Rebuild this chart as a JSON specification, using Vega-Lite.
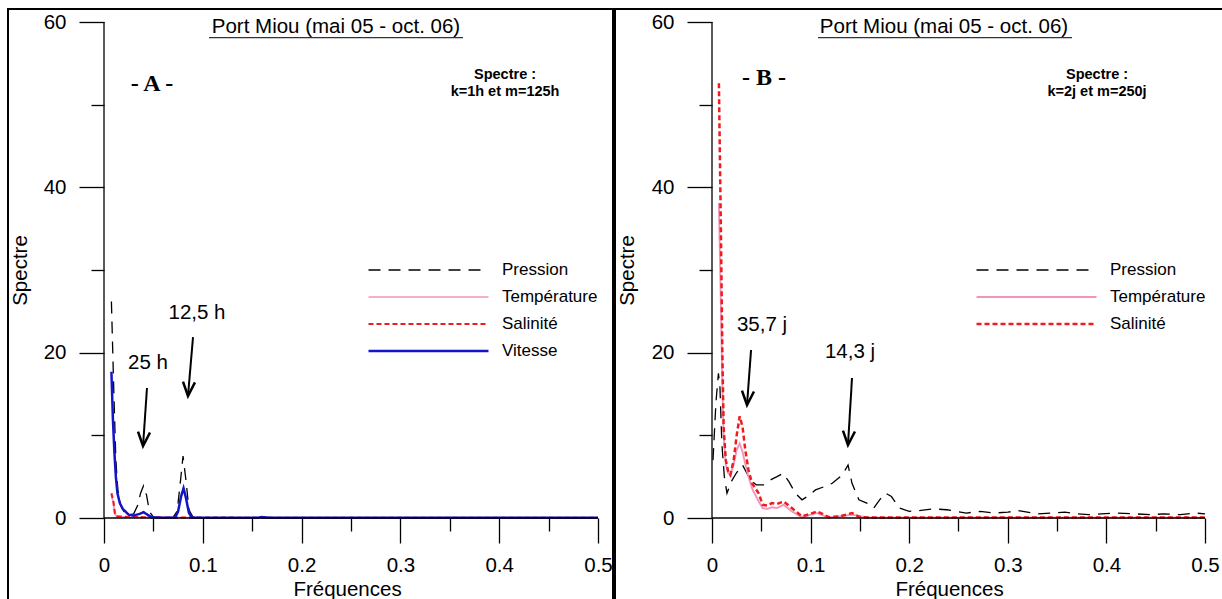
{
  "$schema": "https://vega.github.io/schema/vega-lite/v6.json",
  "padding": {"left": 7, "top": 8, "right": 0, "bottom": 0},
  "background": "white",
  "config": {
    "font": "Liberation Sans",
    "view": {"stroke": "black", "strokeWidth": 2},
    "axis": {"domain": false, "grid": false, "tickColor": "black", "tickWidth": 1.3, "labelColor": "black", "labelFont": "Liberation Sans", "labelFontSize": 20.5, "titleFont": "Liberation Sans", "titleFontSize": 20.5, "titleFontWeight": "normal", "titleColor": "black", "labelFlush": false, "labelOverlap": false},
    "legend": {"orient": "none", "title": null, "symbolType": "stroke", "symbolSize": 14400, "clipHeight": 16, "rowPadding": 10, "labelFont": "Liberation Sans", "labelFontSize": 17, "labelColor": "black", "labelOffset": 12, "symbolStrokeWidth": 2}
  },
  "datasets": {
    "A": [
      {"f": 0.0075, "s": 26.2, "var": "Pression"},
      {"f": 0.010, "s": 15, "var": "Pression"},
      {"f": 0.012, "s": 7, "var": "Pression"},
      {"f": 0.014, "s": 3.4, "var": "Pression"},
      {"f": 0.017, "s": 1.5, "var": "Pression"},
      {"f": 0.020, "s": 0.8, "var": "Pression"},
      {"f": 0.025, "s": 0.4, "var": "Pression"},
      {"f": 0.030, "s": 0.5, "var": "Pression"},
      {"f": 0.034, "s": 1.5, "var": "Pression"},
      {"f": 0.037, "s": 3.0, "var": "Pression"},
      {"f": 0.040, "s": 3.9, "var": "Pression"},
      {"f": 0.043, "s": 2.8, "var": "Pression"},
      {"f": 0.046, "s": 0.8, "var": "Pression"},
      {"f": 0.050, "s": 0.1, "var": "Pression"},
      {"f": 0.060, "s": 0.05, "var": "Pression"},
      {"f": 0.070, "s": 0.1, "var": "Pression"},
      {"f": 0.074, "s": 0.8, "var": "Pression"},
      {"f": 0.077, "s": 4, "var": "Pression"},
      {"f": 0.080, "s": 7.5, "var": "Pression"},
      {"f": 0.083, "s": 4.5, "var": "Pression"},
      {"f": 0.086, "s": 1, "var": "Pression"},
      {"f": 0.090, "s": 0.1, "var": "Pression"},
      {"f": 0.1, "s": 0.05, "var": "Pression"},
      {"f": 0.15, "s": 0.05, "var": "Pression"},
      {"f": 0.16, "s": 0.15, "var": "Pression"},
      {"f": 0.17, "s": 0.05, "var": "Pression"},
      {"f": 0.25, "s": 0.05, "var": "Pression"},
      {"f": 0.35, "s": 0.05, "var": "Pression"},
      {"f": 0.5, "s": 0.05, "var": "Pression"},
      {"f": 0.0075, "s": 2.8, "var": "Température"},
      {"f": 0.0095, "s": 1.8, "var": "Température"},
      {"f": 0.011, "s": 0.5, "var": "Température"},
      {"f": 0.013, "s": 0.15, "var": "Température"},
      {"f": 0.03, "s": 0.1, "var": "Température"},
      {"f": 0.1, "s": 0.03, "var": "Température"},
      {"f": 0.5, "s": 0.02, "var": "Température"},
      {"f": 0.0075, "s": 3.0, "var": "Salinité"},
      {"f": 0.0095, "s": 2.0, "var": "Salinité"},
      {"f": 0.011, "s": 0.6, "var": "Salinité"},
      {"f": 0.013, "s": 0.2, "var": "Salinité"},
      {"f": 0.02, "s": 0.15, "var": "Salinité"},
      {"f": 0.04, "s": 0.1, "var": "Salinité"},
      {"f": 0.06, "s": 0.05, "var": "Salinité"},
      {"f": 0.2, "s": 0.03, "var": "Salinité"},
      {"f": 0.5, "s": 0.02, "var": "Salinité"},
      {"f": 0.0075, "s": 17.7, "var": "Vitesse"},
      {"f": 0.009, "s": 12, "var": "Vitesse"},
      {"f": 0.0105, "s": 8, "var": "Vitesse"},
      {"f": 0.012, "s": 5, "var": "Vitesse"},
      {"f": 0.0136, "s": 3.0, "var": "Vitesse"},
      {"f": 0.016, "s": 1.8, "var": "Vitesse"},
      {"f": 0.019, "s": 1.1, "var": "Vitesse"},
      {"f": 0.025, "s": 0.4, "var": "Vitesse"},
      {"f": 0.030, "s": 0.3, "var": "Vitesse"},
      {"f": 0.036, "s": 0.5, "var": "Vitesse"},
      {"f": 0.040, "s": 0.7, "var": "Vitesse"},
      {"f": 0.044, "s": 0.4, "var": "Vitesse"},
      {"f": 0.048, "s": 0.1, "var": "Vitesse"},
      {"f": 0.06, "s": 0.02, "var": "Vitesse"},
      {"f": 0.072, "s": 0.05, "var": "Vitesse"},
      {"f": 0.075, "s": 0.8, "var": "Vitesse"},
      {"f": 0.078, "s": 2.6, "var": "Vitesse"},
      {"f": 0.0805, "s": 3.6, "var": "Vitesse"},
      {"f": 0.083, "s": 2.4, "var": "Vitesse"},
      {"f": 0.086, "s": 0.6, "var": "Vitesse"},
      {"f": 0.089, "s": 0.05, "var": "Vitesse"},
      {"f": 0.1, "s": 0.02, "var": "Vitesse"},
      {"f": 0.155, "s": 0.02, "var": "Vitesse"},
      {"f": 0.16, "s": 0.12, "var": "Vitesse"},
      {"f": 0.165, "s": 0.02, "var": "Vitesse"},
      {"f": 0.3, "s": 0.02, "var": "Vitesse"},
      {"f": 0.5, "s": 0.02, "var": "Vitesse"}
    ],
    "B": [
      {"f": 0.001, "s": 7, "var": "Pression"},
      {"f": 0.004, "s": 14, "var": "Pression"},
      {"f": 0.0065, "s": 17.5, "var": "Pression"},
      {"f": 0.008, "s": 16, "var": "Pression"},
      {"f": 0.010, "s": 9, "var": "Pression"},
      {"f": 0.0125, "s": 5, "var": "Pression"},
      {"f": 0.0152, "s": 3.0, "var": "Pression"},
      {"f": 0.02, "s": 4.5, "var": "Pression"},
      {"f": 0.025, "s": 5.5, "var": "Pression"},
      {"f": 0.031, "s": 6.4, "var": "Pression"},
      {"f": 0.035, "s": 5.5, "var": "Pression"},
      {"f": 0.039, "s": 4.6, "var": "Pression"},
      {"f": 0.045, "s": 4.0, "var": "Pression"},
      {"f": 0.0524, "s": 4.0, "var": "Pression"},
      {"f": 0.0608, "s": 4.7, "var": "Pression"},
      {"f": 0.066, "s": 5.0, "var": "Pression"},
      {"f": 0.072, "s": 5.4, "var": "Pression"},
      {"f": 0.078, "s": 4.4, "var": "Pression"},
      {"f": 0.0845, "s": 3.0, "var": "Pression"},
      {"f": 0.0913, "s": 2.2, "var": "Pression"},
      {"f": 0.098, "s": 2.7, "var": "Pression"},
      {"f": 0.105, "s": 3.4, "var": "Pression"},
      {"f": 0.114, "s": 3.8, "var": "Pression"},
      {"f": 0.122, "s": 4.2, "var": "Pression"},
      {"f": 0.132, "s": 5.2, "var": "Pression"},
      {"f": 0.138, "s": 6.4, "var": "Pression"},
      {"f": 0.142, "s": 4.2, "var": "Pression"},
      {"f": 0.149, "s": 2.2, "var": "Pression"},
      {"f": 0.157, "s": 1.8, "var": "Pression"},
      {"f": 0.164, "s": 1.2, "var": "Pression"},
      {"f": 0.170, "s": 2.2, "var": "Pression"},
      {"f": 0.176, "s": 3.0, "var": "Pression"},
      {"f": 0.182, "s": 2.6, "var": "Pression"},
      {"f": 0.19, "s": 1.2, "var": "Pression"},
      {"f": 0.2, "s": 0.8, "var": "Pression"},
      {"f": 0.21, "s": 0.9, "var": "Pression"},
      {"f": 0.225, "s": 1.1, "var": "Pression"},
      {"f": 0.238, "s": 1.0, "var": "Pression"},
      {"f": 0.258, "s": 0.6, "var": "Pression"},
      {"f": 0.272, "s": 0.8, "var": "Pression"},
      {"f": 0.286, "s": 0.6, "var": "Pression"},
      {"f": 0.3, "s": 0.7, "var": "Pression"},
      {"f": 0.31, "s": 0.9, "var": "Pression"},
      {"f": 0.33, "s": 0.5, "var": "Pression"},
      {"f": 0.345, "s": 0.6, "var": "Pression"},
      {"f": 0.358, "s": 0.7, "var": "Pression"},
      {"f": 0.37, "s": 0.5, "var": "Pression"},
      {"f": 0.382, "s": 0.4, "var": "Pression"},
      {"f": 0.395, "s": 0.5, "var": "Pression"},
      {"f": 0.41, "s": 0.6, "var": "Pression"},
      {"f": 0.43, "s": 0.5, "var": "Pression"},
      {"f": 0.445, "s": 0.4, "var": "Pression"},
      {"f": 0.458, "s": 0.5, "var": "Pression"},
      {"f": 0.475, "s": 0.4, "var": "Pression"},
      {"f": 0.49, "s": 0.6, "var": "Pression"},
      {"f": 0.5, "s": 0.5, "var": "Pression"},
      {"f": 0.007, "s": 38.1, "var": "Température"},
      {"f": 0.009, "s": 26, "var": "Température"},
      {"f": 0.0105, "s": 16, "var": "Température"},
      {"f": 0.0118, "s": 10, "var": "Température"},
      {"f": 0.014, "s": 6.5, "var": "Température"},
      {"f": 0.0165, "s": 5.4, "var": "Température"},
      {"f": 0.0186, "s": 5.2, "var": "Température"},
      {"f": 0.022, "s": 6.5, "var": "Température"},
      {"f": 0.025, "s": 8.2, "var": "Température"},
      {"f": 0.0281, "s": 9.0, "var": "Température"},
      {"f": 0.031, "s": 8, "var": "Température"},
      {"f": 0.0338, "s": 6.5, "var": "Température"},
      {"f": 0.037, "s": 5.0, "var": "Température"},
      {"f": 0.0406, "s": 3.6, "var": "Température"},
      {"f": 0.0473, "s": 2.0, "var": "Température"},
      {"f": 0.0514, "s": 1.2, "var": "Température"},
      {"f": 0.056, "s": 1.1, "var": "Température"},
      {"f": 0.0608, "s": 1.3, "var": "Température"},
      {"f": 0.066, "s": 1.2, "var": "Température"},
      {"f": 0.0727, "s": 1.6, "var": "Température"},
      {"f": 0.081, "s": 0.8, "var": "Température"},
      {"f": 0.0912, "s": 0.1, "var": "Température"},
      {"f": 0.1064, "s": 0.6, "var": "Température"},
      {"f": 0.1183, "s": 0.05, "var": "Température"},
      {"f": 0.142, "s": 0.4, "var": "Température"},
      {"f": 0.16, "s": 0.03, "var": "Température"},
      {"f": 0.5, "s": 0.03, "var": "Température"},
      {"f": 0.007, "s": 52.6, "var": "Salinité"},
      {"f": 0.009, "s": 35, "var": "Salinité"},
      {"f": 0.0105, "s": 20, "var": "Salinité"},
      {"f": 0.0118, "s": 11.0, "var": "Salinité"},
      {"f": 0.014, "s": 7, "var": "Salinité"},
      {"f": 0.0165, "s": 5.6, "var": "Salinité"},
      {"f": 0.0186, "s": 5.2, "var": "Salinité"},
      {"f": 0.022, "s": 7, "var": "Salinité"},
      {"f": 0.025, "s": 10, "var": "Salinité"},
      {"f": 0.0281, "s": 12.3, "var": "Salinité"},
      {"f": 0.031, "s": 11, "var": "Salinité"},
      {"f": 0.0338, "s": 8.2, "var": "Salinité"},
      {"f": 0.037, "s": 5.8, "var": "Salinité"},
      {"f": 0.0406, "s": 4.2, "var": "Salinité"},
      {"f": 0.0473, "s": 3.0, "var": "Salinité"},
      {"f": 0.0514, "s": 1.6, "var": "Salinité"},
      {"f": 0.056, "s": 1.5, "var": "Salinité"},
      {"f": 0.0608, "s": 1.8, "var": "Salinité"},
      {"f": 0.066, "s": 1.7, "var": "Salinité"},
      {"f": 0.0727, "s": 2.0, "var": "Salinité"},
      {"f": 0.081, "s": 1.2, "var": "Salinité"},
      {"f": 0.0912, "s": 0.2, "var": "Salinité"},
      {"f": 0.1, "s": 0.5, "var": "Salinité"},
      {"f": 0.1064, "s": 0.8, "var": "Salinité"},
      {"f": 0.112, "s": 0.5, "var": "Salinité"},
      {"f": 0.1183, "s": 0.1, "var": "Salinité"},
      {"f": 0.13, "s": 0.2, "var": "Salinité"},
      {"f": 0.142, "s": 0.6, "var": "Salinité"},
      {"f": 0.15, "s": 0.1, "var": "Salinité"},
      {"f": 0.16, "s": 0.05, "var": "Salinité"},
      {"f": 0.3, "s": 0.05, "var": "Salinité"},
      {"f": 0.5, "s": 0.05, "var": "Salinité"}
    ]
  },
  "spacing": 0,
  "resolve": {
    "scale": {"x": "independent", "y": "independent", "color": "independent", "strokeDash": "independent", "strokeWidth": "independent"},
    "legend": {"color": "independent", "strokeDash": "independent", "strokeWidth": "independent"}
  },
  "hconcat": [
    {
      "width": 605,
      "height": 592,
      "layer": [
        {
          "data": {"name": "A"},
          "mark": {"type": "line", "clip": true},
          "encoding": {
            "x": {"field": "f", "type": "quantitative",
              "scale": {"domain": [-0.09717, 0.51518], "nice": false, "zero": false},
              "axis": {"orient": "bottom", "offset": -83, "values": [0, 0.05, 0.1, 0.15, 0.2, 0.25, 0.3, 0.35, 0.4, 0.45, 0.5],
                "tickSize": {"condition": {"test": "round(datum.value*100) % 10 != 0", "value": 13}, "value": 25},
                "labelExpr": "round(datum.value*100) % 10 == 0 ? format(datum.value, '.1~f') : ''",
                "labelPadding": 12, "title": "Fréquences", "titleX": 339, "titleY": 61, "titleBaseline": "top"}},
            "y": {"field": "s", "type": "quantitative",
              "scale": {"domain": [-10.04, 61.573], "nice": false, "zero": false},
              "axis": {"orient": "left", "offset": -96, "values": [0, 10, 20, 30, 40, 50, 60],
                "tickSize": {"condition": {"test": "datum.value % 20 != 0", "value": 13}, "value": 25},
                "labelExpr": "datum.value % 20 == 0 ? datum.label : ''",
                "labelPadding": 13, "title": "Spectre", "titleX": -74, "titleY": 261}},
            "color": {"field": "var", "type": "nominal",
              "scale": {"domain": ["Pression", "Température", "Salinité", "Vitesse"], "range": ["#000000", "#f394bd", "#ee1c1c", "#1414c8"]},
              "legend": {"legendX": 359, "legendY": 253}},
            "strokeDash": {"field": "var", "type": "nominal",
              "scale": {"domain": ["Pression", "Température", "Salinité", "Vitesse"], "range": [[12, 8], [1, 0], [5, 3], [1, 0]]},
              "legend": {"legendX": 359, "legendY": 253}},
            "strokeWidth": {"field": "var", "type": "nominal",
              "scale": {"domain": ["Pression", "Température", "Salinité", "Vitesse"], "range": [1.3, 2.5, 2.5, 1.6]},
              "legend": {"legendX": 359, "legendY": 253}}
          }
        },
        {
          "data": {"values": [{}]},
          "mark": {"type": "rule", "color": "black", "strokeWidth": 1.3},
          "encoding": {"x": {"datum": 0}, "y": {"datum": 0}, "y2": {"datum": 60}}
        },
        {
          "data": {"values": [{}]},
          "mark": {"type": "rule", "color": "black", "strokeWidth": 1.3},
          "encoding": {"x": {"datum": 0}, "x2": {"datum": 0.5}, "y": {"datum": 0}}
        },
        {
          "data": {"values": [{}]},
          "mark": {"type": "rule", "color": "black", "strokeWidth": 1},
          "encoding": {"x": {"datum": 0.1063}, "x2": {"datum": 0.3634}, "y": {"datum": 58.1}}
        },
        {
          "data": {"values": [
            {"f": 0.2348, "s": 59.4, "t": "Port Miou (mai 05 - oct. 06)"},
            {"f": 0.0445, "s": 18.75, "t": "25 h"},
            {"f": 0.0941, "s": 24.8, "t": "12,5 h"}
          ]},
          "mark": {"type": "text", "fontSize": 20.5, "color": "black", "baseline": "middle", "align": "center"},
          "encoding": {"x": {"field": "f", "type": "quantitative"}, "y": {"field": "s", "type": "quantitative"}, "text": {"field": "t"}}
        },
        {
          "data": {"values": [{"f": 0.0486, "s": 52.5, "t": "- A -"}]},
          "mark": {"type": "text", "font": "Liberation Serif", "fontWeight": "bold", "fontSize": 24, "color": "black", "baseline": "middle", "align": "center"},
          "encoding": {"x": {"field": "f", "type": "quantitative"}, "y": {"field": "s", "type": "quantitative"}, "text": {"field": "t"}}
        },
        {
          "data": {"values": [{"f": 0.4059, "s": 53.59, "t": "Spectre :"}, {"f": 0.4059, "s": 51.53, "t": "k=1h et m=125h"}]},
          "mark": {"type": "text", "fontWeight": "bold", "fontSize": 14.5, "color": "black", "baseline": "middle", "align": "center"},
          "encoding": {"x": {"field": "f", "type": "quantitative"}, "y": {"field": "s", "type": "quantitative"}, "text": {"field": "t"}}
        },
        {
          "data": {"values": [{"f": 0.0435, "s": 15.73, "f2": 0.0395, "s2": 8.71}, {"f": 0.0901, "s": 21.89, "f2": 0.085, "s2": 14.76}]},
          "mark": {"type": "rule", "color": "black", "strokeWidth": 2},
          "encoding": {"x": {"field": "f", "type": "quantitative"}, "x2": {"field": "f2"}, "y": {"field": "s", "type": "quantitative"}, "y2": {"field": "s2"}}
        },
        {
          "data": {"values": [{"f": 0.0395, "s": 8.71}, {"f": 0.085, "s": 14.76}]},
          "mark": {"type": "point", "shape": "M-0.6,-1.4L0,0L0.6,-1.4", "size": 400, "filled": false, "stroke": "black", "strokeWidth": 2.5, "opacity": 1, "angle": 4},
          "encoding": {"x": {"field": "f", "type": "quantitative"}, "y": {"field": "s", "type": "quantitative"}}
        }
      ]
    },
    {
      "width": 608,
      "height": 592,
      "layer": [
        {
          "data": {"name": "B"},
          "mark": {"type": "line", "clip": true},
          "encoding": {
            "x": {"field": "f", "type": "quantitative",
              "scale": {"domain": [-0.09838, 0.51826], "nice": false, "zero": false},
              "axis": {"orient": "bottom", "offset": -83, "values": [0, 0.05, 0.1, 0.15, 0.2, 0.25, 0.3, 0.35, 0.4, 0.45, 0.5],
                "tickSize": {"condition": {"test": "round(datum.value*100) % 10 != 0", "value": 13}, "value": 25},
                "labelExpr": "round(datum.value*100) % 10 == 0 ? format(datum.value, '.1~f') : ''",
                "labelPadding": 12, "title": "Fréquences", "titleX": 334, "titleY": 61, "titleBaseline": "top"}},
            "y": {"field": "s", "type": "quantitative",
              "scale": {"domain": [-10.04, 61.573], "nice": false, "zero": false},
              "axis": {"orient": "left", "offset": -97, "values": [0, 10, 20, 30, 40, 50, 60],
                "tickSize": {"condition": {"test": "datum.value % 20 != 0", "value": 13}, "value": 25},
                "labelExpr": "datum.value % 20 == 0 ? datum.label : ''",
                "labelPadding": 13, "title": "Spectre", "titleX": -75, "titleY": 261}},
            "color": {"field": "var", "type": "nominal",
              "scale": {"domain": ["Pression", "Température", "Salinité"], "range": ["#000000", "#f394bd", "#ee1c1c"]},
              "legend": {"legendX": 360, "legendY": 253}},
            "strokeDash": {"field": "var", "type": "nominal",
              "scale": {"domain": ["Pression", "Température", "Salinité"], "range": [[12, 8], [1, 0], [5, 3]]},
              "legend": {"legendX": 360, "legendY": 253}},
            "strokeWidth": {"field": "var", "type": "nominal",
              "scale": {"domain": ["Pression", "Température", "Salinité"], "range": [1.3, 2.5, 2.5]},
              "legend": {"legendX": 360, "legendY": 253}}
          }
        },
        {
          "data": {"values": [{}]},
          "mark": {"type": "rule", "color": "black", "strokeWidth": 1.3},
          "encoding": {"x": {"datum": 0}, "y": {"datum": 0}, "y2": {"datum": 60}}
        },
        {
          "data": {"values": [{}]},
          "mark": {"type": "rule", "color": "black", "strokeWidth": 1.3},
          "encoding": {"x": {"datum": 0}, "x2": {"datum": 0.5}, "y": {"datum": 0}}
        },
        {
          "data": {"values": [{}]},
          "mark": {"type": "rule", "color": "black", "strokeWidth": 1},
          "encoding": {"x": {"datum": 0.1075}, "x2": {"datum": 0.3651}, "y": {"datum": 58.1}}
        },
        {
          "data": {"values": [
            {"f": 0.2353, "s": 59.4, "t": "Port Miou (mai 05 - oct. 06)"},
            {"f": 0.0507, "s": 23.35, "t": "35,7 j"},
            {"f": 0.14, "s": 20.08, "t": "14,3 j"}
          ]},
          "mark": {"type": "text", "fontSize": 20.5, "color": "black", "baseline": "middle", "align": "center"},
          "encoding": {"x": {"field": "f", "type": "quantitative"}, "y": {"field": "s", "type": "quantitative"}, "text": {"field": "t"}}
        },
        {
          "data": {"values": [{"f": 0.0527, "s": 53.22, "t": "- B -"}]},
          "mark": {"type": "text", "font": "Liberation Serif", "fontWeight": "bold", "fontSize": 24, "color": "black", "baseline": "middle", "align": "center"},
          "encoding": {"x": {"field": "f", "type": "quantitative"}, "y": {"field": "s", "type": "quantitative"}, "text": {"field": "t"}}
        },
        {
          "data": {"values": [{"f": 0.3905, "s": 53.59, "t": "Spectre :"}, {"f": 0.3905, "s": 51.53, "t": "k=2j et m=250j"}]},
          "mark": {"type": "text", "fontWeight": "bold", "fontSize": 14.5, "color": "black", "baseline": "middle", "align": "center"},
          "encoding": {"x": {"field": "f", "type": "quantitative"}, "y": {"field": "s", "type": "quantitative"}, "text": {"field": "t"}}
        },
        {
          "data": {"values": [{"f": 0.0396, "s": 20.32, "f2": 0.0355, "s2": 13.67}, {"f": 0.142, "s": 16.94, "f2": 0.1379, "s2": 8.83}]},
          "mark": {"type": "rule", "color": "black", "strokeWidth": 2},
          "encoding": {"x": {"field": "f", "type": "quantitative"}, "x2": {"field": "f2"}, "y": {"field": "s", "type": "quantitative"}, "y2": {"field": "s2"}}
        },
        {
          "data": {"values": [{"f": 0.0355, "s": 13.67}, {"f": 0.1379, "s": 8.83}]},
          "mark": {"type": "point", "shape": "M-0.6,-1.4L0,0L0.6,-1.4", "size": 400, "filled": false, "stroke": "black", "strokeWidth": 2.5, "opacity": 1, "angle": 4},
          "encoding": {"x": {"field": "f", "type": "quantitative"}, "y": {"field": "s", "type": "quantitative"}}
        }
      ]
    }
  ]
}
